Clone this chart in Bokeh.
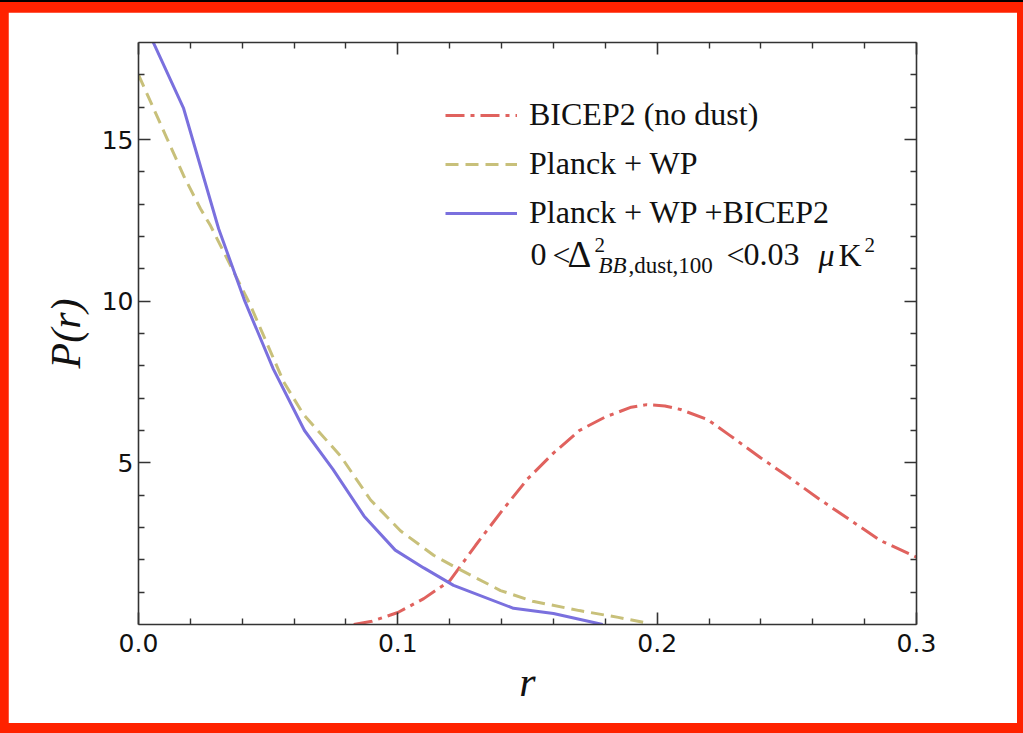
from bokeh.plotting import figure
from bokeh.models import (Range1d, FixedTicker, LinearAxis, Legend, LegendItem, Label)
from bokeh.layouts import column
from bokeh.embed import file_html
from bokeh.resources import INLINE

# ---------------- data ----------------
r_bicep = [0.083, 0.09, 0.1, 0.11, 0.12, 0.13, 0.14, 0.15, 0.16, 0.17, 0.18, 0.19,
           0.196, 0.203, 0.209, 0.2194, 0.228, 0.24, 0.25, 0.263, 0.275, 0.286, 0.3]
p_bicep = [0.0, 0.1, 0.37, 0.8, 1.35, 2.45, 3.5, 4.5, 5.3, 6.0, 6.42, 6.72,
           6.8, 6.76, 6.65, 6.34, 5.85, 5.15, 4.6, 3.85, 3.2, 2.6, 2.08]

r_planck = [0.0, 0.011, 0.0174, 0.0239, 0.0278, 0.043, 0.056, 0.0636, 0.078, 0.0895,
            0.101, 0.1138, 0.1215, 0.1396, 0.152, 0.170, 0.185, 0.197]
p_planck = [17.0, 15.03, 13.88, 12.86, 12.33, 9.9, 7.5, 6.5, 5.2, 3.85,
            2.9, 2.14, 1.8, 1.05, 0.72, 0.43, 0.22, 0.03]

r_comb = [0.0, 0.0174, 0.0309, 0.041, 0.052, 0.064, 0.075, 0.087, 0.099, 0.11,
          0.1215, 0.1446, 0.16, 0.179]
p_comb = [19.0, 15.96, 12.24, 10.0, 7.9, 6.0, 4.8, 3.35, 2.3, 1.75,
          1.21, 0.5, 0.34, 0.0]

x_major = [0.0, 0.1, 0.2, 0.3]
x_minor = [0.02, 0.04, 0.06, 0.08, 0.12, 0.14, 0.16, 0.18, 0.22, 0.24, 0.26, 0.28]
y_major = [5, 10, 15]
y_minor = [1, 2, 3, 4, 6, 7, 8, 9, 11, 12, 13, 14, 16, 17]

labels = ["BICEP2 (no dust)", "Planck + WP", "Planck + WP +BICEP2"]

RED = "#e0625e"
YEL = "#c8c07a"
BLU = "#7a70de"
AX = "#333333"

# ---------------- figure ----------------
p = figure(width=1009, height=711, x_range=Range1d(0, 0.3), y_range=Range1d(0, 18),
           output_backend="svg", toolbar_location=None,
           min_border_left=130, min_border_right=101, min_border_top=30, min_border_bottom=99,
           background_fill_color="white", border_fill_color="white")
p.outline_line_color = None
p.grid.visible = False

def style_axis(ax, show_labels):
    ax.axis_line_color = AX
    ax.axis_line_width = 1.6
    ax.major_tick_line_color = AX
    ax.minor_tick_line_color = AX
    ax.major_tick_line_width = 1.6
    ax.minor_tick_line_width = 1.4
    ax.major_tick_in = 12
    ax.major_tick_out = 0
    ax.minor_tick_in = 6
    ax.minor_tick_out = 0
    ax.major_label_text_font = "DejaVu Sans"
    ax.major_label_text_font_size = "25px"
    ax.major_label_text_color = "#111111"
    if not show_labels:
        ax.major_label_text_font_size = "0px"
        ax.major_label_text_alpha = 0

xt = FixedTicker(ticks=x_major, minor_ticks=x_minor)
yt = FixedTicker(ticks=y_major, minor_ticks=y_minor)

p.xaxis.ticker = xt
p.yaxis.ticker = yt
p.xaxis.major_label_overrides = {v: f"{v:.1f}" for v in x_major}
p.xaxis.axis_label = "r"
p.yaxis.axis_label = "P(r)"
for ax in (p.xaxis[0], p.yaxis[0]):
    style_axis(ax, True)
    ax.axis_label_text_font = "Liberation Serif"
    ax.axis_label_text_font_style = "italic"
    ax.axis_label_text_font_size = "42px"
    ax.axis_label_text_color = "#111111"
p.xaxis.major_label_standoff = 9
p.xaxis.axis_label_standoff = 4
p.yaxis.major_label_standoff = 5
p.yaxis.axis_label_standoff = 10

top = LinearAxis(ticker=FixedTicker(ticks=x_major, minor_ticks=x_minor))
right = LinearAxis(ticker=FixedTicker(ticks=y_major, minor_ticks=y_minor))
style_axis(top, False)
style_axis(right, False)
p.add_layout(top, "above")
p.add_layout(right, "right")

# ---------------- curves ----------------
r1 = p.line(r_bicep, p_bicep, line_color=RED, line_width=3, line_dash="19 6 4 6")
r2 = p.line(r_planck, p_planck, line_color=YEL, line_width=3, line_dash="13 7")
r3 = p.line(r_comb, p_comb, line_color=BLU, line_width=3)

legend = Legend(items=[LegendItem(label=labels[0], renderers=[r1]),
                       LegendItem(label=labels[1], renderers=[r2]),
                       LegendItem(label=labels[2], renderers=[r3])],
                location=(307, 393))
legend.border_line_alpha = 0
legend.background_fill_alpha = 0
legend.padding = 0
legend.margin = 0
legend.glyph_width = 72
legend.glyph_height = 36
legend.label_height = 36
legend.spacing = 12
legend.label_standoff = 12
legend.label_text_font = "Liberation Serif"
legend.label_text_font_size = "32px"
legend.label_text_color = "#111111"
p.add_layout(legend, "center")

# ---------------- fourth legend line ----------------
def px2x(px):
    return (px - 138) / 2593.3

def py2y(py):
    return (624 - py) / 32.2

BASE = py2y(256)
SUP = py2y(246)
SUB = py2y(266)
pieces = [
    ("0", 530, BASE, "32px", "normal"),
    ("<", 552, BASE, "32px", "normal"),
    ("\u0394", 567, BASE, "37px", "normal"),
    ("2", 594, SUP, "21px", "normal"),
    ("BB", 598, SUB, "23px", "italic"),
    (",dust,100", 628, SUB, "23px", "normal"),
    ("<", 726, BASE, "32px", "normal"),
    ("0.03", 743, BASE, "32px", "normal"),
    ("\u03bc", 818, BASE, "32px", "italic"),
    ("K", 838, BASE, "32px", "normal"),
    ("2", 864, SUP, "21px", "normal"),
]
for txt, px, yy, fs, st in pieces:
    p.add_layout(Label(x=px2x(px), y=yy, text=txt, text_font="Liberation Serif",
                       text_font_size=fs, text_font_style=st, text_color="#111111",
                       text_baseline="alphabetic", text_align="left"))

layout = column(p, styles={"background-color": "#ff2200", "padding": "10px 6px 10px 8px",
                           "border-top": "2px solid #000000"})

open("out.html", "w").write(file_html(layout, INLINE))
